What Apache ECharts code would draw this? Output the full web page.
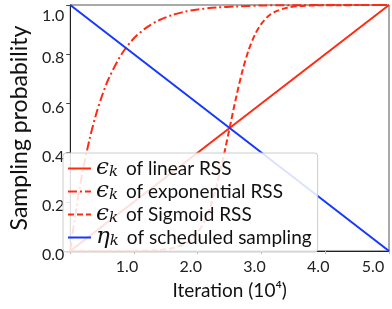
<!DOCTYPE html>
<html><head><meta charset="utf-8">
<script src="https://cdn.jsdelivr.net/npm/echarts@6/dist/echarts.min.js"></script>
<style>html,body{margin:0;padding:0;background:#fff}#c{width:392px;height:309px}</style>
</head><body><div id="c"></div>
<script>
// Data (x in units of 10^4 iterations)
const linearX = [0, 5.0];
const linearY = [0, 1.0];
const schedX = [0, 5.0];
const schedY = [1.0, 0];
const expX = [0, 0.05, 0.1, 0.15, 0.2, 0.3, 0.4, 0.5, 0.6, 0.8, 1.0, 1.2, 1.4, 1.6, 1.8, 2.0, 2.3, 2.6, 3.0, 3.5, 4.0, 5.0];
const expY = [0, 0.095, 0.181, 0.259, 0.330, 0.451, 0.551, 0.632, 0.699, 0.798, 0.865, 0.909, 0.939, 0.959, 0.973, 0.982, 0.990, 0.994, 0.998, 0.999, 1.0, 1.0];
const sigX = [0, 0.5, 1.0, 1.4, 1.6, 1.8, 1.9, 2.0, 2.1, 2.2, 2.3, 2.4, 2.5, 2.6, 2.7, 2.8, 2.9, 3.0, 3.1, 3.2, 3.4, 3.6, 3.8, 4.0, 5.0];
const sigY = [0, 0.0001, 0.0006, 0.004, 0.011, 0.029, 0.047, 0.076, 0.119, 0.182, 0.269, 0.378, 0.5, 0.622, 0.731, 0.818, 0.881, 0.924, 0.953, 0.971, 0.989, 0.996, 0.998, 0.999, 1.0];
const xTicks = ['1.0', '2.0', '3.0', '4.0', '5.0'];
const yTicks = ['0.0', '0.2', '0.4', '0.6', '0.8', '1.0'];
const seriesNames = ['ϵk of linear RSS', 'ϵk of exponential RSS', 'ϵk of Sigmoid RSS', 'ηk of scheduled sampling'];

const pairs = (xs, ys) => xs.map((x, i) => [x, ys[i]]);
const RED = '#ff2a12', BLUE = '#1538ff';
const FONT = 'Lato';

const chart = echarts.init(document.getElementById('c'));
chart.setOption({
  animation: false,
  backgroundColor: '#fff',
  grid: { left: 58, right: 3, top: 5, bottom: 58, show: true, borderColor: '#555', borderWidth: 1, backgroundColor: 'transparent' },
  xAxis: {
    type: 'value', min: 0, max: 5, interval: 1,
    name: 'Iteration (10⁴)', nameLocation: 'middle', nameGap: 30,
    nameTextStyle: { fontFamily: FONT, fontSize: 19, color: '#111' },
    axisLine: { lineStyle: { color: '#222', width: 1 } },
    axisTick: { show: true, length: 3, lineStyle: { color: '#bbb' } },
    splitLine: { show: false },
    axisLabel: {
      margin: 8, fontFamily: FONT, fontSize: 16, color: '#222',
      formatter: v => {
        const i = Math.round(v) - 1;
        if (i < 0) return '';
        return i === 4 ? '{e|' + xTicks[i] + '}' : '{n|' + xTicks[i] + '}';
      },
      rich: {
        n: { fontFamily: FONT, fontSize: 16, color: '#222', padding: [0, 14, 0, 0] },
        e: { fontFamily: FONT, fontSize: 16, color: '#222', padding: [0, 32, 0, 0] }
      }
    }
  },
  yAxis: {
    type: 'value', min: 0, max: 1, interval: 0.2,
    name: 'Sampling probability', nameLocation: 'middle', nameGap: 36,
    nameTextStyle: { fontFamily: FONT, fontSize: 23, color: '#111' },
    axisLine: { show: true, lineStyle: { color: '#222', width: 1 } },
    axisTick: { show: true, length: 4, lineStyle: { color: '#444' } },
    splitLine: { show: false },
    axisLabel: {
      margin: 6, fontFamily: FONT, fontSize: 16, color: '#222',
      formatter: v => {
        const i = Math.round(v * 5);
        return i === 5 ? '{t|' + yTicks[i] + '}' : '{n|' + yTicks[i] + '}';
      },
      rich: {
        n: { fontFamily: FONT, fontSize: 16, color: '#222', padding: [8, 0, 0, 0] },
        t: { fontFamily: FONT, fontSize: 16, color: '#222', padding: [22, 0, 0, 0] }
      }
    }
  },
  legend: {
    orient: 'vertical', left: 63, top: 153,
    backgroundColor: 'rgba(255,255,255,0.85)', borderColor: '#cccccc', borderWidth: 1, borderRadius: 3,
    padding: [4, 6, 3, 4], itemGap: 0, itemWidth: 23, itemHeight: 12,
    itemStyle: { opacity: 0 },
    data: seriesNames,
    formatter: name => {
      const greek = name.charAt(0);
      const rest = name.slice(3);
      return '{g|' + greek + '}{k|k}{t|' + rest + '}';
    },
    textStyle: {
      fontFamily: FONT, fontSize: 19, color: '#111', padding: [0, 0, 0, 0],
      rich: {
        g: { fontFamily: 'DejaVu Serif', fontStyle: 'italic', fontSize: 23, color: '#111', lineHeight: 21 },
        k: { fontFamily: 'DejaVu Serif', fontStyle: 'italic', fontSize: 15, color: '#111', padding: [8, 8, 0, 0] },
        t: { fontFamily: FONT, fontSize: 19, color: '#111' }
      }
    }
  },
  series: [
    { name: seriesNames[0], type: 'line', data: pairs(linearX, linearY), symbol: 'none',
      lineStyle: { color: RED, width: 2 }, itemStyle: { color: RED } },
    { name: seriesNames[1], type: 'line', data: pairs(expX, expY), symbol: 'none', smooth: 0.3,
      lineStyle: { color: RED, width: 2, type: [9, 3, 2, 3] }, itemStyle: { color: RED } },
    { name: seriesNames[2], type: 'line', data: pairs(sigX, sigY), symbol: 'none', smooth: 0.3,
      lineStyle: { color: RED, width: 2, type: [6, 3] }, itemStyle: { color: RED } },
    { name: seriesNames[3], type: 'line', data: pairs(schedX, schedY), symbol: 'none',
      lineStyle: { color: BLUE, width: 2 }, itemStyle: { color: BLUE } }
  ]
});
</script></body></html>
